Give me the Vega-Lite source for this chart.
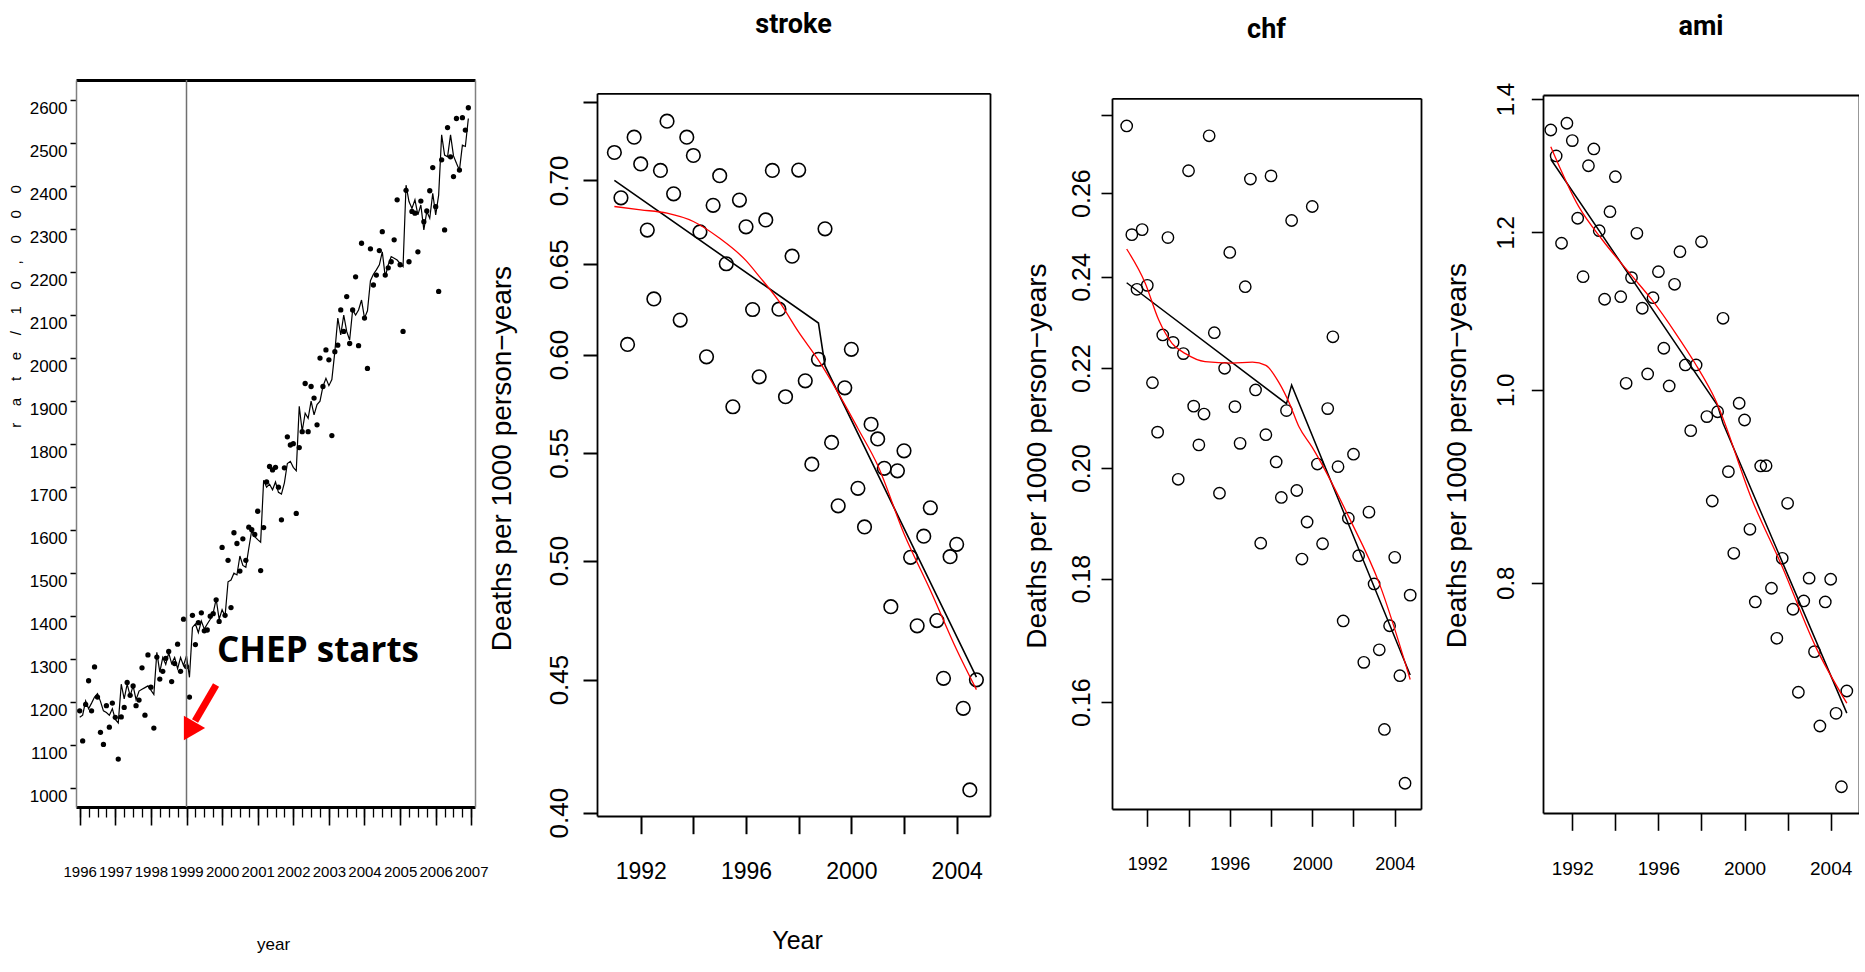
{
"$schema": "https://vega.github.io/schema/vega-lite/v6.json",
"background": "white",
"padding": {"left": 8, "top": 11, "right": 0, "bottom": 0},
"bounds": "flush",
"spacing": 122,
"datasets": {
"rate": [
{"t":1996,"dot":1180,"fit":1165},{"t":1996.083,"dot":1110,"fit":1170},{"t":1996.167,"dot":1195,"fit":1203},{"t":1996.25,"dot":1250,"fit":1185},{"t":1996.333,"dot":1180,"fit":1198},{"t":1996.417,"dot":1282,"fit":1212},{"t":1996.5,"dot":1212,"fit":1220},{"t":1996.583,"dot":1130,"fit":1202},{"t":1996.667,"dot":1102,"fit":1180},{"t":1996.75,"dot":1192,"fit":1176},{"t":1996.833,"dot":1142,"fit":1170},{"t":1996.917,"dot":1198,"fit":1185},
{"t":1997,"dot":1165,"fit":1160},{"t":1997.083,"dot":1068,"fit":1152},{"t":1997.167,"dot":1166,"fit":1242},{"t":1997.25,"dot":1188,"fit":1208},{"t":1997.333,"dot":1246,"fit":1242},{"t":1997.417,"dot":1216,"fit":1215},{"t":1997.5,"dot":1238,"fit":1238},{"t":1997.583,"dot":1192,"fit":1206},{"t":1997.667,"dot":1205,"fit":1226},{"t":1997.75,"dot":1280,"fit":1230},{"t":1997.833,"dot":1170,"fit":1234},{"t":1997.917,"dot":1310,"fit":1238},
{"t":1998,"dot":1235,"fit":1228},{"t":1998.083,"dot":1140,"fit":1218},{"t":1998.167,"dot":1305,"fit":1316},{"t":1998.25,"dot":1254,"fit":1270},{"t":1998.333,"dot":1272,"fit":1304},{"t":1998.417,"dot":1302,"fit":1288},{"t":1998.5,"dot":1318,"fit":1315},{"t":1998.583,"dot":1248,"fit":1290},{"t":1998.667,"dot":1290,"fit":1304},{"t":1998.75,"dot":1335,"fit":1278},{"t":1998.833,"dot":1272,"fit":1304},{"t":1998.917,"dot":1393,"fit":1285},
{"t":1999,"dot":1283,"fit":1308},{"t":1999.083,"dot":1212,"fit":1258},{"t":1999.167,"dot":1402,"fit":1374},{"t":1999.25,"dot":1334,"fit":1382},{"t":1999.333,"dot":1385,"fit":1362},{"t":1999.417,"dot":1408,"fit":1389},{"t":1999.5,"dot":1366,"fit":1370},{"t":1999.583,"dot":1368,"fit":1382},{"t":1999.667,"dot":1400,"fit":1393},{"t":1999.75,"dot":1406,"fit":1408},{"t":1999.833,"dot":1438,"fit":1440},{"t":1999.917,"dot":1388,"fit":1393},
{"t":2000,"dot":1560,"fit":1415},{"t":2000.083,"dot":1402,"fit":1400},{"t":2000.167,"dot":1530,"fit":1480},{"t":2000.25,"dot":1420,"fit":1484},{"t":2000.333,"dot":1594,"fit":1500},{"t":2000.417,"dot":1569,"fit":1496},{"t":2000.5,"dot":1505,"fit":1540},{"t":2000.583,"dot":1580,"fit":1518},{"t":2000.667,"dot":1530,"fit":1514},{"t":2000.75,"dot":1607,"fit":1558},{"t":2000.833,"dot":1601,"fit":1600},{"t":2000.917,"dot":1590,"fit":1585},
{"t":2001,"dot":1644,"fit":1578},{"t":2001.083,"dot":1506,"fit":1572},{"t":2001.167,"dot":1606,"fit":1716},{"t":2001.25,"dot":1712,"fit":1700},{"t":2001.333,"dot":1748,"fit":1707},{"t":2001.417,"dot":1740,"fit":1694},{"t":2001.5,"dot":1746,"fit":1712},{"t":2001.583,"dot":1700,"fit":1688},{"t":2001.667,"dot":1624,"fit":1684},{"t":2001.75,"dot":1745,"fit":1710},{"t":2001.833,"dot":1817,"fit":1755},{"t":2001.917,"dot":1798,"fit":1760},
{"t":2002,"dot":1801,"fit":1746},{"t":2002.083,"dot":1639,"fit":1738},{"t":2002.167,"dot":1792,"fit":1888},{"t":2002.25,"dot":1829,"fit":1830},{"t":2002.333,"dot":1941,"fit":1872},{"t":2002.417,"dot":1829,"fit":1860},{"t":2002.5,"dot":1934,"fit":1900},{"t":2002.583,"dot":1907,"fit":1868},{"t":2002.667,"dot":1845,"fit":1892},{"t":2002.75,"dot":2000,"fit":1900},{"t":2002.833,"dot":1934,"fit":1934},{"t":2002.917,"dot":2019,"fit":1953},
{"t":2003,"dot":1996,"fit":1936},{"t":2003.083,"dot":1820,"fit":1950},{"t":2003.167,"dot":2015,"fit":2015},{"t":2003.25,"dot":2030,"fit":2093},{"t":2003.333,"dot":2112,"fit":2054},{"t":2003.417,"dot":2062,"fit":2100},{"t":2003.5,"dot":2143,"fit":2062},{"t":2003.583,"dot":2034,"fit":2042},{"t":2003.667,"dot":2112,"fit":2112},{"t":2003.75,"dot":2189,"fit":2100},{"t":2003.833,"dot":2029,"fit":2112},{"t":2003.917,"dot":2267,"fit":2135},
{"t":2004,"dot":2093,"fit":2093},{"t":2004.083,"dot":1976,"fit":2110},{"t":2004.167,"dot":2254,"fit":2180},{"t":2004.25,"dot":2170,"fit":2195},{"t":2004.333,"dot":2193,"fit":2205},{"t":2004.417,"dot":2250,"fit":2217},{"t":2004.5,"dot":2294,"fit":2247},{"t":2004.583,"dot":2193,"fit":2189},{"t":2004.667,"dot":2210,"fit":2217},{"t":2004.75,"dot":2224,"fit":2236},{"t":2004.833,"dot":2275,"fit":2232},{"t":2004.917,"dot":2368,"fit":2228},
{"t":2005,"dot":2217,"fit":2220},{"t":2005.083,"dot":2062,"fit":2213},{"t":2005.167,"dot":2390,"fit":2402},{"t":2005.25,"dot":2224,"fit":2364},{"t":2005.333,"dot":2341,"fit":2348},{"t":2005.417,"dot":2337,"fit":2368},{"t":2005.5,"dot":2247,"fit":2333},{"t":2005.583,"dot":2365,"fit":2356},{"t":2005.667,"dot":2317,"fit":2298},{"t":2005.75,"dot":2342,"fit":2341},{"t":2005.833,"dot":2389,"fit":2325},{"t":2005.917,"dot":2443,"fit":2383},
{"t":2006,"dot":2352,"fit":2333},{"t":2006.083,"dot":2155,"fit":2379},{"t":2006.167,"dot":2461,"fit":2519},{"t":2006.25,"dot":2298,"fit":2472},{"t":2006.333,"dot":2536,"fit":2468},{"t":2006.417,"dot":2468,"fit":2519},{"t":2006.5,"dot":2422,"fit":2470},{"t":2006.583,"dot":2557,"fit":2453},{"t":2006.667,"dot":2437,"fit":2437},{"t":2006.75,"dot":2559,"fit":2495},{"t":2006.833,"dot":2530,"fit":2492},{"t":2006.917,"dot":2582,"fit":2557}
],
"stroke": [
{"t":1991,"v":0.7175},{"t":1991.25,"v":0.6893},{"t":1991.5,"v":0.6054},{"t":1991.75,"v":0.7273},
{"t":1992,"v":0.7103},{"t":1992.25,"v":0.6699},{"t":1992.5,"v":0.6303},{"t":1992.75,"v":0.7062},
{"t":1993,"v":0.7377},{"t":1993.25,"v":0.6917},{"t":1993.5,"v":0.6186},{"t":1993.75,"v":0.7273},
{"t":1994,"v":0.7156},{"t":1994.25,"v":0.6688},{"t":1994.5,"v":0.5988},{"t":1994.75,"v":0.6847},
{"t":1995,"v":0.7029},{"t":1995.25,"v":0.6502},{"t":1995.5,"v":0.5729},{"t":1995.75,"v":0.6879},
{"t":1996,"v":0.6718},{"t":1996.25,"v":0.6244},{"t":1996.5,"v":0.5883},{"t":1996.75,"v":0.6759},
{"t":1997,"v":0.7062},{"t":1997.25,"v":0.6246},{"t":1997.5,"v":0.578},{"t":1997.75,"v":0.6546},
{"t":1998,"v":0.7064},{"t":1998.25,"v":0.5862},{"t":1998.5,"v":0.5445},{"t":1998.75,"v":0.5975},
{"t":1999,"v":0.6706},{"t":1999.25,"v":0.5551},{"t":1999.5,"v":0.5248},{"t":1999.75,"v":0.5826},
{"t":2000,"v":0.6028},{"t":2000.25,"v":0.533},{"t":2000.5,"v":0.5151},{"t":2000.75,"v":0.5641},
{"t":2001,"v":0.5568},{"t":2001.25,"v":0.5425},{"t":2001.5,"v":0.48},{"t":2001.75,"v":0.5413},
{"t":2002,"v":0.551},{"t":2002.25,"v":0.5014},{"t":2002.5,"v":0.4719},{"t":2002.75,"v":0.5109},
{"t":2003,"v":0.5239},{"t":2003.25,"v":0.4741},{"t":2003.5,"v":0.4505},{"t":2003.75,"v":0.5017},
{"t":2004,"v":0.5072},{"t":2004.25,"v":0.4387},{"t":2004.5,"v":0.4081},{"t":2004.75,"v":0.4499}
],
"strokeSeg": [{"t":1991,"v":0.7},{"t":1998.75,"v":0.617},{"t":1999,"v":0.594},{"t":2004.75,"v":0.451}],
"strokeSmooth": [{"t":1991,"v":0.684},{"t":1992,"v":0.682},{"t":1993,"v":0.68},{"t":1994,"v":0.675},{"t":1995,"v":0.665},{"t":1996,"v":0.652},{"t":1996.5,"v":0.643},{"t":1997.25,"v":0.629},{"t":1998,"v":0.612},{"t":1998.75,"v":0.597},{"t":1999.5,"v":0.58},{"t":2000.25,"v":0.562},{"t":2001,"v":0.544},{"t":2002,"v":0.512},{"t":2003,"v":0.487},{"t":2004,"v":0.462},{"t":2004.75,"v":0.446}],
"chf": [
{"t":1991,"v":0.2772},{"t":1991.25,"v":0.2499},{"t":1991.5,"v":0.2372},{"t":1991.75,"v":0.2511},
{"t":1992,"v":0.2381},{"t":1992.25,"v":0.217},{"t":1992.5,"v":0.207},{"t":1992.75,"v":0.2271},
{"t":1993,"v":0.2492},{"t":1993.25,"v":0.2255},{"t":1993.5,"v":0.1979},{"t":1993.75,"v":0.2231},
{"t":1994,"v":0.2656},{"t":1994.25,"v":0.2122},{"t":1994.5,"v":0.2045},{"t":1994.75,"v":0.2106},
{"t":1995,"v":0.2746},{"t":1995.25,"v":0.2276},{"t":1995.5,"v":0.1953},{"t":1995.75,"v":0.22},
{"t":1996,"v":0.2457},{"t":1996.25,"v":0.2121},{"t":1996.5,"v":0.2048},{"t":1996.75,"v":0.2378},
{"t":1997,"v":0.2635},{"t":1997.25,"v":0.2155},{"t":1997.5,"v":0.1862},{"t":1997.75,"v":0.2065},
{"t":1998,"v":0.2643},{"t":1998.25,"v":0.2012},{"t":1998.5,"v":0.1945},{"t":1998.75,"v":0.2113},
{"t":1999,"v":0.2533},{"t":1999.25,"v":0.1958},{"t":1999.5,"v":0.1834},{"t":1999.75,"v":0.19},
{"t":2000,"v":0.2567},{"t":2000.25,"v":0.2008},{"t":2000.5,"v":0.1861},{"t":2000.75,"v":0.2117},
{"t":2001,"v":0.2267},{"t":2001.25,"v":0.2003},{"t":2001.5,"v":0.1729},{"t":2001.75,"v":0.1907},
{"t":2002,"v":0.2027},{"t":2002.25,"v":0.184},{"t":2002.5,"v":0.1662},{"t":2002.75,"v":0.1918},
{"t":2003,"v":0.1791},{"t":2003.25,"v":0.1682},{"t":2003.5,"v":0.1559},{"t":2003.75,"v":0.1721},
{"t":2004,"v":0.1837},{"t":2004.25,"v":0.1641},{"t":2004.5,"v":0.1481},{"t":2004.75,"v":0.1772}
],
"chfSeg": [{"t":1991,"v":0.2387},{"t":1998.75,"v":0.2127},{"t":1999,"v":0.2165},{"t":2004.75,"v":0.1642}],
"chfSmooth": [{"t":1991,"v":0.2465},{"t":1991.9,"v":0.2386},{"t":1992.55,"v":0.2304},{"t":1993.2,"v":0.2253},{"t":1993.85,"v":0.2231},{"t":1994.8,"v":0.2214},{"t":1996.1,"v":0.2211},{"t":1997.1,"v":0.2213},{"t":1997.75,"v":0.2206},{"t":1998.4,"v":0.2169},{"t":1998.9,"v":0.2127},{"t":1999.35,"v":0.2081},{"t":2000,"v":0.204},{"t":2001.8,"v":0.1907},{"t":2003.25,"v":0.1792},{"t":2004.75,"v":0.1635}],
"ami": [
{"t":1991,"v":1.3507},{"t":1991.25,"v":1.3108},{"t":1991.5,"v":1.1848},{"t":1991.75,"v":1.3613},
{"t":1992,"v":1.3342},{"t":1992.25,"v":1.2196},{"t":1992.5,"v":1.1399},{"t":1992.75,"v":1.296},
{"t":1993,"v":1.3214},{"t":1993.25,"v":1.2022},{"t":1993.5,"v":1.1105},{"t":1993.75,"v":1.2289},
{"t":1994,"v":1.2797},{"t":1994.25,"v":1.1138},{"t":1994.5,"v":1.0076},{"t":1994.75,"v":1.1386},
{"t":1995,"v":1.1985},{"t":1995.25,"v":1.099},{"t":1995.5,"v":1.0186},{"t":1995.75,"v":1.1125},
{"t":1996,"v":1.1465},{"t":1996.25,"v":1.0493},{"t":1996.5,"v":1.0045},{"t":1996.75,"v":1.1299},
{"t":1997,"v":1.1733},{"t":1997.25,"v":1.0292},{"t":1997.5,"v":0.9539},{"t":1997.75,"v":1.0292},
{"t":1998,"v":1.1869},{"t":1998.25,"v":0.9695},{"t":1998.5,"v":0.8793},{"t":1998.75,"v":0.975},
{"t":1999,"v":1.0863},{"t":1999.25,"v":0.9097},{"t":1999.5,"v":0.8277},{"t":1999.75,"v":0.9846},
{"t":2000,"v":0.9657},{"t":2000.25,"v":0.851},{"t":2000.5,"v":0.7824},{"t":2000.75,"v":0.9157},
{"t":2001,"v":0.916},{"t":2001.25,"v":0.7949},{"t":2001.5,"v":0.7502},{"t":2001.75,"v":0.8229},
{"t":2002,"v":0.877},{"t":2002.25,"v":0.7758},{"t":2002.5,"v":0.7048},{"t":2002.75,"v":0.7833},
{"t":2003,"v":0.8042},{"t":2003.25,"v":0.7387},{"t":2003.5,"v":0.6778},{"t":2003.75,"v":0.7824},
{"t":2004,"v":0.8032},{"t":2004.25,"v":0.6878},{"t":2004.5,"v":0.6318},{"t":2004.75,"v":0.7058}
],
"amiSeg": [{"t":1991,"v":1.3057},{"t":1998.75,"v":0.982},{"t":1999,"v":0.962},{"t":2004.75,"v":0.688}],
"amiSmooth": [{"t":1991,"v":1.3248},{"t":1992.3,"v":1.236},{"t":1993.4,"v":1.1893},{"t":1994.8,"v":1.1399},{"t":1995.7,"v":1.1096},{"t":1996.8,"v":1.0676},{"t":1997.7,"v":1.0312},{"t":1998.65,"v":0.9884},{"t":2000.35,"v":0.8804},{"t":2001.75,"v":0.815},{"t":2003.3,"v":0.743},{"t":2004.75,"v":0.6959}]
},
"hconcat": [
{
"width": 399, "height": 727,
"view": {"stroke": null},
"resolve": {"axis": {"x": "independent", "y": "independent"}},
"layer": [
{"data": {"name": "rate"},
 "mark": {"type": "point", "filled": true, "color": "black", "size": 28, "opacity": 1},
 "encoding": {
  "x": {"field": "t", "type": "quantitative", "scale": {"domain": [1995.896, 2007.104], "nice": false, "zero": false},
   "axis": {"orient": "bottom", "values": [1996,1997,1998,1999,2000,2001,2002,2003,2004,2005,2006,2007], "format": "d", "domain": true, "domainColor": "black", "domainWidth": 3, "ticks": true, "tickSize": 18, "tickWidth": 1.6, "tickColor": "black", "labelFont": "Liberation Sans", "labelFontSize": 15, "labelPadding": 39, "labelBaseline": "top", "title": "year", "titleFont": "Liberation Sans", "titleFontSize": 17, "titleFontWeight": "normal", "titleX": 197, "titleY": 142, "titleAlign": "center", "titleBaseline": "alphabetic"}},
  "y": {"field": "dot", "type": "quantitative", "scale": {"domain": [956.5, 2646.5], "nice": false, "zero": false},
   "axis": {"orient": "left", "values": [1000,1100,1200,1300,1400,1500,1600,1700,1800,1900,2000,2100,2200,2300,2400,2500,2600], "format": "d", "domain": true, "domainColor": "#808080", "domainWidth": 1.5, "tickSize": 6, "tickWidth": 1.5, "tickColor": "black", "labelFont": "Liberation Sans", "labelFontSize": 17, "labelPadding": 3, "labelBaseline": "top", "title": "r\u00a0\u00a0\u00a0\u00a0a\u00a0\u00a0\u00a0\u00a0t\u00a0\u00a0\u00a0\u00a0e\u00a0\u00a0\u00a0\u00a0/\u00a0\u00a0\u00a0\u00a01\u00a0\u00a0\u00a0\u00a00\u00a0\u00a0\u00a0\u00a0,\u00a0\u00a0\u00a0\u00a00\u00a0\u00a0\u00a0\u00a00\u00a0\u00a0\u00a0\u00a00", "titleFont": "Liberation Sans", "titleFontSize": 15, "titleFontWeight": "normal", "titleAngle": 270, "titleX": -61, "titleY": 226, "titleAlign": "center", "titleBaseline": "middle"}}
 }},
{"data": {"name": "rate"},
 "mark": {"type": "line", "color": "black", "strokeWidth": 1.2},
 "encoding": {
  "x": {"field": "t", "type": "quantitative", "axis": {"orient": "top", "domain": true, "domainColor": "black", "domainWidth": 3, "ticks": false, "labels": false, "title": null, "grid": false}},
  "y": {"field": "fit", "type": "quantitative", "axis": {"orient": "right", "domain": true, "domainColor": "#808080", "domainWidth": 1.5, "ticks": false, "labels": false, "title": null, "grid": false}}
 }},
{"data": {"values": [{"k": 1}]},
 "mark": {"type": "rule", "color": "#707070", "strokeWidth": 1.5},
 "encoding": {
  "x": {"datum": 1999, "type": "quantitative", "axis": {"orient": "bottom", "values": [1996,1996.25,1996.5,1996.75,1997,1997.25,1997.5,1997.75,1998,1998.25,1998.5,1998.75,1999,1999.25,1999.5,1999.75,2000,2000.25,2000.5,2000.75,2001,2001.25,2001.5,2001.75,2002,2002.25,2002.5,2002.75,2003,2003.25,2003.5,2003.75,2004,2004.25,2004.5,2004.75,2005,2005.25,2005.5,2005.75,2006,2006.25,2006.5,2006.75,2007], "labels": false, "domain": false, "ticks": true, "tickSize": 10, "tickWidth": 1.3, "tickColor": "black", "title": null, "grid": false}}
 }},
{"data": {"values": [{"k": 1}]},
 "mark": {"type": "text", "text": "CHEP starts", "font": "Open Sans", "fontWeight": "bold", "fontSize": 35, "align": "left", "baseline": "alphabetic", "color": "black"},
 "encoding": {
  "x": {"datum": 1999.857, "type": "quantitative", "axis": null},
  "y": {"datum": 1294.3, "type": "quantitative", "axis": null}
 }},
{"data": {"values": [{"k": 1}]},
 "mark": {"type": "rule", "color": "#ff0000", "strokeWidth": 7},
 "encoding": {
  "x": {"datum": 1999.83, "type": "quantitative", "axis": null},
  "y": {"datum": 1240, "type": "quantitative", "axis": null},
  "x2": {"datum": 1999.24},
  "y2": {"datum": 1156.5}
 }},
{"data": {"values": [{"k": 1}]},
 "mark": {"type": "point", "shape": "triangle-down", "filled": true, "color": "#ff0000", "size": 600, "angle": 30, "opacity": 1, "strokeWidth": 0},
 "encoding": {
  "x": {"datum": 1999.076, "type": "quantitative", "axis": null},
  "y": {"datum": 1133.2, "type": "quantitative", "axis": null}
 }}
]
},
{
"width": 393, "height": 736,
"view": {"stroke": null},
"title": {"text": "stroke", "font": "Roboto", "fontSize": 27, "fontWeight": "bold", "color": "black", "anchor": "middle", "frame": "group", "offset": 20, "baseline": "alphabetic"},
"resolve": {"axis": {"x": "independent", "y": "independent"}},
"layer": [
 {"data": {"name": "stroke"}, "mark": {"type": "point", "shape": "circle", "filled": false, "color": "black", "size": 185, "strokeWidth": 1.6, "opacity": 1},
  "encoding": {
   "x": {"field": "t", "type": "quantitative", "scale": {"domain": [1990.34, 2005.266], "nice": false, "zero": false},
    "axis": {"orient": "bottom", "values": [1992,1994,1996,1998,2000,2002,2004], "format": "d", "labelExpr": "datum.value % 4 === 0 ? datum.label : ''", "domain": true, "domainColor": "black", "domainWidth": 1.8, "tickSize": 17.7, "tickWidth": 2, "tickColor": "black", "labelFont": "Liberation Sans", "labelFontSize": 23, "labelPadding": 27, "labelBaseline": "top", "title": "Year", "titleFont": "Liberation Sans", "titleFontSize": 25, "titleFontWeight": "normal", "titleX": 200, "titleY": 132, "titleAlign": "center", "titleBaseline": "alphabetic"}},
   "y": {"field": "v", "type": "quantitative", "scale": {"type": "log", "domain": [0.3988, 0.7561], "range": [736, 13.3], "nice": false},
    "axis": {"orient": "left", "values": [0.4,0.45,0.5,0.55,0.6,0.65,0.7,0.75], "labelExpr": "datum.value > 0.74 ? '' : format(datum.value, '.2f')", "domain": true, "domainColor": "black", "domainWidth": 1.8, "tickSize": 14, "tickWidth": 2, "tickColor": "black", "labelAngle": 270, "labelAlign": "center", "labelBaseline": "alphabetic", "labelPadding": 16, "labelFont": "Liberation Sans", "labelFontSize": 26, "title": "Deaths per 1000 person\u2212years", "titleFont": "Liberation Sans", "titleFontSize": 28, "titleFontWeight": "normal", "titleAngle": 270, "titleX": -95, "titleY": 378, "titleAlign": "center", "titleBaseline": "middle"}}
  }},
 {"data": {"name": "strokeSeg"}, "mark": {"type": "line", "color": "black", "strokeWidth": 1.6},
  "encoding": {
   "x": {"field": "t", "type": "quantitative", "axis": {"orient": "top", "offset": -13.3, "domain": true, "domainColor": "black", "domainWidth": 1.8, "ticks": false, "labels": false, "title": null, "grid": false}},
   "y": {"field": "v", "type": "quantitative", "axis": {"orient": "right", "domain": true, "domainColor": "black", "domainWidth": 1.8, "ticks": false, "labels": false, "title": null, "grid": false}}
  }},
 {"data": {"name": "strokeSmooth"}, "mark": {"type": "line", "color": "#ff0000", "strokeWidth": 1.3, "interpolate": "monotone"},
  "encoding": {
   "x": {"field": "t", "type": "quantitative", "axis": null},
   "y": {"field": "v", "type": "quantitative", "axis": null}
  }}
]
},
{
"width": 309, "height": 729,
"view": {"stroke": null},
"title": {"text": "chf", "font": "Roboto", "fontSize": 27, "fontWeight": "bold", "color": "black", "anchor": "middle", "frame": "group", "offset": 15, "baseline": "alphabetic"},
"resolve": {"axis": {"x": "independent", "y": "independent"}},
"layer": [
 {"data": {"name": "chf"}, "mark": {"type": "point", "shape": "circle", "filled": false, "color": "black", "size": 130, "strokeWidth": 1.4, "opacity": 1},
  "encoding": {
   "x": {"field": "t", "type": "quantitative", "scale": {"domain": [1990.288, 2005.274], "nice": false, "zero": false},
    "axis": {"orient": "bottom", "values": [1992,1994,1996,1998,2000,2002,2004], "format": "d", "labelExpr": "datum.value % 4 === 0 ? datum.label : ''", "domain": true, "domainColor": "black", "domainWidth": 1.8, "tickSize": 17.3, "tickWidth": 1.6, "tickColor": "black", "labelFont": "Liberation Sans", "labelFontSize": 18, "labelPadding": 29, "labelBaseline": "top", "title": null}},
   "y": {"field": "v", "type": "quantitative", "scale": {"type": "log", "domain": [0.14451, 0.2846], "range": [729, 18.3], "nice": false},
    "axis": {"orient": "left", "values": [0.16,0.18,0.2,0.22,0.24,0.26,0.28], "labelExpr": "datum.value > 0.27 ? '' : format(datum.value, '.2f')", "domain": true, "domainColor": "black", "domainWidth": 1.8, "tickSize": 11, "tickWidth": 1.6, "tickColor": "black", "labelAngle": 270, "labelAlign": "center", "labelBaseline": "alphabetic", "labelPadding": 11.3, "labelFont": "Liberation Sans", "labelFontSize": 25, "title": "Deaths per 1000 person\u2212years", "titleFont": "Liberation Sans", "titleFontSize": 28, "titleFontWeight": "normal", "titleAngle": 270, "titleX": -75, "titleY": 375.5, "titleAlign": "center", "titleBaseline": "middle"}}
  }},
 {"data": {"name": "chfSeg"}, "mark": {"type": "line", "color": "black", "strokeWidth": 1.5},
  "encoding": {
   "x": {"field": "t", "type": "quantitative", "axis": {"orient": "top", "offset": -18.3, "domain": true, "domainColor": "black", "domainWidth": 1.8, "ticks": false, "labels": false, "title": null, "grid": false}},
   "y": {"field": "v", "type": "quantitative", "axis": {"orient": "right", "domain": true, "domainColor": "black", "domainWidth": 1.8, "ticks": false, "labels": false, "title": null, "grid": false}}
  }},
 {"data": {"name": "chfSmooth"}, "mark": {"type": "line", "color": "#ff0000", "strokeWidth": 1.3, "interpolate": "monotone"},
  "encoding": {
   "x": {"field": "t", "type": "quantitative", "axis": null},
   "y": {"field": "v", "type": "quantitative", "axis": null}
  }}
]
},
{
"width": 316, "height": 733,
"view": {"stroke": null},
"title": {"text": "ami", "font": "Roboto", "fontSize": 27, "fontWeight": "bold", "color": "black", "anchor": "middle", "frame": "group", "offset": 18, "baseline": "alphabetic"},
"resolve": {"axis": {"x": "independent", "y": "independent"}},
"layer": [
 {"data": {"name": "ami"}, "mark": {"type": "point", "shape": "circle", "filled": false, "color": "black", "size": 130, "strokeWidth": 1.4, "opacity": 1},
  "encoding": {
   "x": {"field": "t", "type": "quantitative", "scale": {"domain": [1990.639, 2005.316], "nice": false, "zero": false},
    "axis": {"orient": "bottom", "values": [1992,1994,1996,1998,2000,2002,2004], "format": "d", "labelExpr": "datum.value % 4 === 0 ? datum.label : ''", "domain": true, "domainColor": "black", "domainWidth": 1.8, "tickSize": 17.3, "tickWidth": 1.6, "tickColor": "black", "labelFont": "Liberation Sans", "labelFontSize": 19, "labelPadding": 29, "labelBaseline": "top", "title": null}},
   "y": {"field": "v", "type": "quantitative", "scale": {"type": "log", "domain": [0.6129, 1.4065], "range": [733, 15], "nice": false},
    "axis": {"orient": "left", "values": [0.8,1,1.2,1.4], "format": ".1f", "domain": true, "domainColor": "black", "domainWidth": 1.8, "tickSize": 11.7, "tickWidth": 1.6, "tickColor": "black", "labelAngle": 270, "labelAlign": "center", "labelBaseline": "alphabetic", "labelPadding": 18.3, "labelFont": "Liberation Sans", "labelFontSize": 24, "title": "Deaths per 1000 person\u2212years", "titleFont": "Liberation Sans", "titleFontSize": 28, "titleFontWeight": "normal", "titleAngle": 270, "titleX": -86, "titleY": 375, "titleAlign": "center", "titleBaseline": "middle"}}
  }},
 {"data": {"name": "amiSeg"}, "mark": {"type": "line", "color": "black", "strokeWidth": 1.5},
  "encoding": {
   "x": {"field": "t", "type": "quantitative", "axis": {"orient": "top", "offset": -15, "domain": true, "domainColor": "black", "domainWidth": 1.8, "ticks": false, "labels": false, "title": null, "grid": false}},
   "y": {"field": "v", "type": "quantitative", "axis": {"orient": "right", "domain": true, "domainColor": "black", "domainWidth": 1.8, "ticks": false, "labels": false, "title": null, "grid": false}}
  }},
 {"data": {"name": "amiSmooth"}, "mark": {"type": "line", "color": "#ff0000", "strokeWidth": 1.3, "interpolate": "monotone"},
  "encoding": {
   "x": {"field": "t", "type": "quantitative", "axis": null},
   "y": {"field": "v", "type": "quantitative", "axis": null}
  }}
]
}
],
"config": {
 "view": {"stroke": null},
 "axis": {"grid": false, "labelColor": "black", "titleColor": "black", "labelFlush": false, "labelOverlap": false, "labelBound": false, "titleLimit": 2000, "labelLimit": 500},
 "title": {"color": "black"}
}
}
